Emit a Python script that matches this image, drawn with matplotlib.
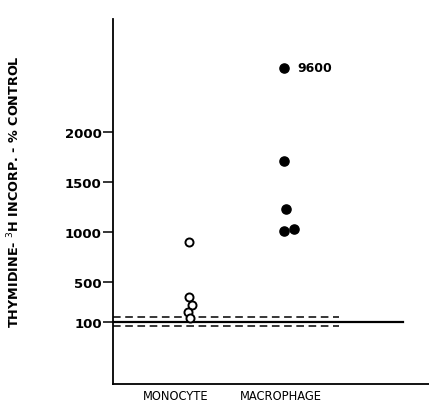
import matplotlib
matplotlib.use('Agg')
import matplotlib.pyplot as plt

# data (% of control)
monocyte_x = [0.99, 0.99, 1.02, 0.97, 1.0]
monocyte_y = [900, 345, 270, 200, 140]
macrophage_x = [1.97, 1.97, 1.99, 1.97, 2.07]
macrophage_y = [2640, 1710, 1230, 1010, 1030]   # top point is off-scale, labelled 9600
off_scale_label = '9600'

control = 100
control_upper = 145
control_lower = 55

yticks = [100, 500, 1000, 1500, 2000]
groups = ['MONOCYTE', 'MACROPHAGE']
group_pos = [0.85, 1.93]

fig = plt.figure(figsize=(4.29, 4.06), dpi=100)
ax = fig.add_axes([0.263, 0.052, 0.737, 0.899])

ax.axhline(control, xmin=0, xmax=(3.19 - 0.2) / 3.26, color='black', lw=1.6)
ax.plot([0.2, 2.53], [control_upper] * 2, color='black', lw=1.1, dashes=(5, 3))
ax.plot([0.2, 2.53], [control_lower] * 2, color='black', lw=1.1, dashes=(5, 3))

ax.plot(monocyte_x, monocyte_y, 'o', ms=5.8, mfc='white', mec='black', mew=1.4)
ax.plot(macrophage_x, macrophage_y, 'o', ms=6.6, mfc='black', mec='black')
ax.text(macrophage_x[0] + 0.13, macrophage_y[0], off_scale_label,
        fontsize=9, fontweight='bold', va='center', ha='left')

ax.set_xlim(0.2, 3.46)
ax.set_ylim(-520, 3130)
ax.set_yticks(yticks)
ax.set_yticklabels([str(t) for t in yticks], fontsize=9.5, fontweight='bold')
ax.tick_params(axis='y', direction='out', length=7, width=1.1, pad=1)
ax.set_xticks(group_pos)
ax.set_xticklabels(groups, fontsize=8.3, fontweight='medium')
ax.tick_params(axis='x', length=0, pad=4)

ax.spines['top'].set_visible(False)
ax.spines['right'].set_visible(False)
ax.spines['left'].set_linewidth(1.3)
ax.spines['bottom'].set_linewidth(1.3)

ax.set_ylabel('THYMIDINE- $^{3}$H INCORP. - % CONTROL', fontsize=9.2,
              fontweight='semibold')
ax.yaxis.set_label_coords(-0.285, 0.53)

fig.savefig('out.png', dpi=100)
